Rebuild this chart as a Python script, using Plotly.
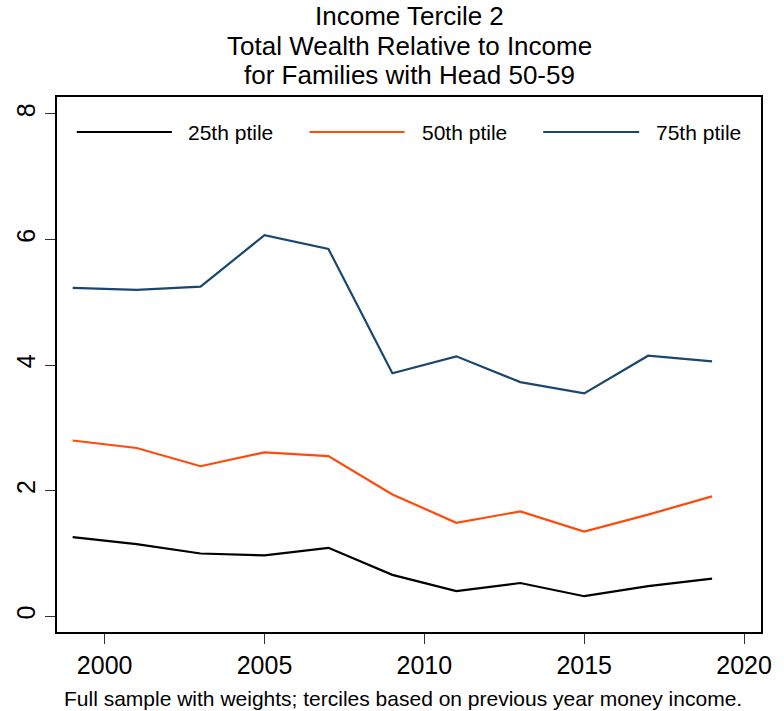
import plotly.graph_objects as go

# Survey years (biennial)
years = [1999, 2001, 2003, 2005, 2007, 2009, 2011, 2013, 2015, 2017, 2019]

# Total wealth / income ratios by percentile
p25 = [1.26, 1.15, 1.00, 0.97, 1.09, 0.66, 0.40, 0.53, 0.32, 0.48, 0.60]
p50 = [2.80, 2.68, 2.39, 2.61, 2.55, 1.94, 1.49, 1.67, 1.35, 1.62, 1.91]
p75 = [5.23, 5.20, 5.25, 6.07, 5.85, 3.87, 4.14, 3.73, 3.55, 4.15, 4.06]

series_names = ["25th ptile", "50th ptile", "75th ptile"]
series_colors = ["#000000", "#ff4a0a", "#1a476f"]

x_ticks = [2000, 2005, 2010, 2015, 2020]
y_ticks = [0, 2, 4, 6, 8]

FONT = "Liberation Sans, Arial, Helvetica, sans-serif"

W, H = 784, 711
L, R, T, B = 57, 16, 97, 79
PW, PH = W - L - R, H - T - B


def px_x(px):
    return (px - L) / PW


def px_y(py):
    return (H - B - py) / PH


fig = go.Figure()
for name, vals, col in zip(series_names, [p25, p50, p75], series_colors):
    fig.add_trace(go.Scatter(x=years, y=vals, mode="lines", name=name,
                             line=dict(color=col, width=2.2), showlegend=False))

# Legend drawn inside the plot region, across the top
legend_items = [(77, 173, 187), (312, 408, 424), (548, 645, 660)]
shapes, annotations = [], []
legend_y = 132
for (x0, x1, tx), name, col in zip(legend_items, series_names, series_colors):
    shapes.append(dict(type="line", xref="paper", yref="paper",
                       x0=px_x(x0), x1=px_x(x1), y0=px_y(legend_y), y1=px_y(legend_y),
                       line=dict(color=col, width=2.2)))
    annotations.append(dict(text=name, xref="paper", yref="paper",
                            x=px_x(tx), y=px_y(legend_y), xanchor="left", yanchor="middle",
                            showarrow=False, font=dict(family=FONT, size=21, color="black")))

# Three-line title
title_lines = ["Income Tercile 2", "Total Wealth Relative to Income",
               "for Families with Head 50-59"]
for i, line in enumerate(title_lines):
    annotations.append(dict(text=line, xref="paper", yref="paper",
                            x=0.5, y=px_y(16.5 + 29.5 * i), xanchor="center", yanchor="middle",
                            borderpad=0, showarrow=False,
                            font=dict(family=FONT, size=26, color="black")))

# Note below the axis
annotations.append(dict(text="Full sample with weights; terciles based on previous year money income.",
                        xref="paper", yref="paper", x=px_x(62), y=px_y(698),
                        xanchor="left", yanchor="middle", showarrow=False,
                        font=dict(family=FONT, size=21, color="black")))

fig.update_layout(
    width=W, height=H,
    margin=dict(l=L, r=R, t=T, b=B),
    paper_bgcolor="white", plot_bgcolor="white",
    font=dict(family=FONT, color="black"),
    shapes=shapes, annotations=annotations,
    showlegend=False,
)
fig.update_xaxes(range=[1998.51, 2020.53], tickvals=x_ticks, ticks="outside", ticklen=10,
                 tickwidth=1.3, tickcolor="#333", showline=True, linecolor="black", linewidth=1.6,
                 mirror=True, showgrid=False, zeroline=False,
                 tickfont=dict(family=FONT, size=25, color="black"))
fig.update_yaxes(range=[-0.25, 8.27], tickvals=y_ticks, ticks="outside", ticklen=10,
                 tickwidth=1.3, tickcolor="#333", showline=True, linecolor="black", linewidth=1.6,
                 mirror=True, showgrid=False, zeroline=False, tickangle=-90,
                 tickfont=dict(family=FONT, size=25, color="black"))

fig.write_html("out.html")
